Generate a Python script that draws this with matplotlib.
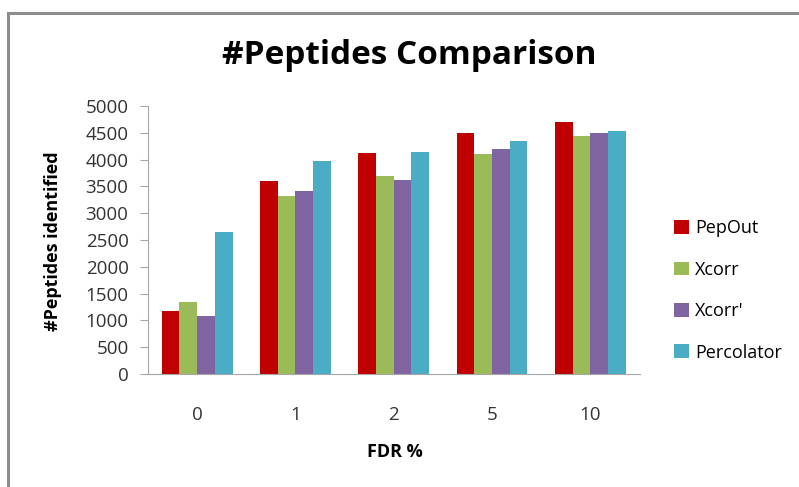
import matplotlib
matplotlib.use("Agg")
import matplotlib.pyplot as plt
import numpy as np
from matplotlib.patches import Rectangle

fdr_levels = ["0", "1", "2", "5", "10"]
series_names = ["PepOut", "Xcorr", "Xcorr'", "Percolator"]
pepout = [1180, 3610, 4125, 4500, 4700]
xcorr = [1340, 3325, 3700, 4100, 4435]
xcorr_prime = [1075, 3405, 3620, 4200, 4500]
percolator = [2645, 3965, 4140, 4340, 4535]
colors = ["#c00000", "#9bbb59", "#8064a2", "#4bacc6"]

W, H = 799, 487
fig = plt.figure(figsize=(W / 100, H / 100), dpi=100)
fig.patch.set_facecolor("white")

# grey frame around the chart area (runs off the right and bottom edges)
fig.patches.append(Rectangle((8 / W, -0.05), 1.2, 1 - 13 / H + 0.05,
                             transform=fig.transFigure, fill=False,
                             edgecolor="#8c8c8c", linewidth=2.2))

ax = fig.add_axes([148 / W, 1 - 374 / H, (639.5 - 148) / W, (374 - 106) / H])

x = np.arange(len(fdr_levels))
bw = 0.18
for i, (vals, name) in enumerate(zip([pepout, xcorr, xcorr_prime, percolator], series_names)):
    ax.bar(x + (i - 1.5) * bw, vals, bw, color=colors[i], label=name, zorder=2)

ax.set_xlim(-0.5, len(fdr_levels) - 0.5)
ax.set_ylim(0, 5000)
ax.set_yticks(range(0, 5001, 500))
ax.set_xticks(x)
ax.set_xticklabels(fdr_levels)

font = "Open Sans"
for s in ["top", "right"]:
    ax.spines[s].set_visible(False)
ax.spines["left"].set_color("#a6a6a6")
ax.spines["bottom"].set_color("#a6a6a6")
ax.tick_params(axis="y", length=6, color="#a6a6a6", labelsize=13.5, pad=8,
               labelcolor="#333333")
ax.tick_params(axis="x", length=0, labelsize=13.5, pad=23, labelcolor="#333333")
for lab in ax.get_xticklabels() + ax.get_yticklabels():
    lab.set_family(font)

fig.text(409 / W, 1 - 56 / H, "#Peptides Comparison", ha="center", va="center",
         fontsize=24, fontweight="bold", family=font)
fig.text(53 / W, 1 - 241 / H, "#Peptides identified", ha="center", va="center",
         rotation=90, fontsize=13, fontweight="bold", family=font)
fig.text(395 / W, 1 - 452 / H, "FDR %", ha="center", va="center",
         fontsize=13, fontweight="bold", family=font)

leg = fig.legend(loc="upper left", bbox_to_anchor=(658 / W, 1 - 203 / H),
                 frameon=False, handlelength=0.8, handleheight=0.8,
                 handletextpad=0.35, labelspacing=1.3,
                 prop={"family": font, "size": 13})

fig.savefig("out.png", dpi=100, facecolor="white")
